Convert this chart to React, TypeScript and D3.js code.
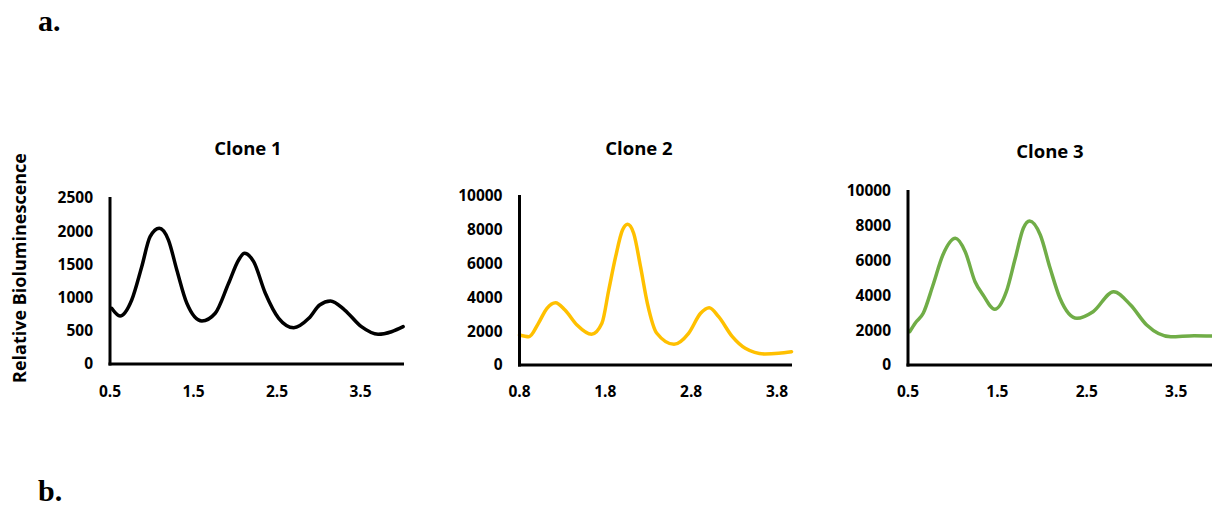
import React, { useEffect, useRef } from 'react';
import * as d3 from 'd3';

// Clone 1 (black)
const clone1X = [0.52, 0.62, 0.76, 0.88, 0.98, 1.09, 1.2, 1.3, 1.42, 1.6, 1.76, 1.92, 2.04, 2.11, 2.22, 2.36, 2.52, 2.7, 2.88, 3.01, 3.14, 3.31, 3.51, 3.71, 3.87, 4.01];
const clone1Y = [839, 723, 964, 1465, 1917, 2044, 1867, 1416, 914, 648, 764, 1215, 1566, 1667, 1541, 1065, 688, 547, 688, 889, 949, 813, 562, 447, 486, 562];

// Clone 2 (yellow)
const clone2X = [0.8, 0.91, 1.02, 1.12, 1.22, 1.33, 1.47, 1.64, 1.76, 1.84, 1.92, 2.0, 2.06, 2.13, 2.21, 2.29, 2.4, 2.6, 2.77, 2.91, 3.01, 3.12, 3.28, 3.43, 3.66, 3.82, 3.97];
const clone2Y = [1775, 1675, 2467, 3355, 3686, 3254, 2367, 1817, 2467, 4438, 6408, 7988, 8325, 7793, 5817, 3651, 1876, 1225, 1876, 3059, 3391, 2858, 1675, 988, 651, 692, 787];

// Clone 3 (green)
const clone3X = [0.52, 0.58, 0.67, 0.78, 0.89, 1.03, 1.14, 1.25, 1.34, 1.47, 1.6, 1.7, 1.79, 1.86, 1.98, 2.09, 2.2, 2.39, 2.57, 2.8, 2.99, 3.17, 3.44, 3.7, 3.9];
const clone3Y = [1914, 2397, 2971, 4598, 6322, 7282, 6511, 4787, 4023, 3201, 4213, 6132, 7856, 8276, 7471, 5557, 3833, 2684, 3063, 4213, 3448, 2299, 1626, 1684, 1667];

const ticks1Y = [0, 500, 1000, 1500, 2000, 2500];
const ticks23Y = [0, 2000, 4000, 6000, 8000, 10000];
const ticks1X = [0.5, 1.5, 2.5, 3.5];
const ticks2X = [0.8, 1.8, 2.8, 3.8];
const ticks3X = [0.5, 1.5, 2.5, 3.5];

const panels = [
  { title: 'Clone 1', xs: clone1X, ys: clone1Y, xTicks: ticks1X, yTicks: ticks1Y, color: '#000000',
    left: 110, right: 404, top: 198, bottom: 364, xDomain: [0.5, 4.02], titleX: 248, titleY: 149 },
  { title: 'Clone 2', xs: clone2X, ys: clone2Y, xTicks: ticks2X, yTicks: ticks23Y, color: '#FFC000',
    left: 519.5, right: 792, top: 196, bottom: 365, xDomain: [0.8, 3.975], titleX: 639, titleY: 149 },
  { title: 'Clone 3', xs: clone3X, ys: clone3Y, xTicks: ticks3X, yTicks: ticks23Y, color: '#70AD47',
    left: 908, right: 1220, top: 191, bottom: 365, xDomain: [0.5, 3.99], titleX: 1050, titleY: 152 },
];

const FONT = '"Open Sans", "Noto Sans", sans-serif';

export default function App() {
  const ref = useRef<SVGSVGElement>(null);

  useEffect(() => {
    const svg = d3.select(ref.current);
    svg.selectAll('*').remove();

    svg.append('text')
      .attr('x', 38).attr('y', 31)
      .attr('font-family', '"Liberation Serif", "DejaVu Serif", serif')
      .attr('font-weight', 'bold').attr('font-size', 30)
      .text('a.');
    svg.append('text')
      .attr('x', 38).attr('y', 501)
      .attr('font-family', '"Liberation Serif", "DejaVu Serif", serif')
      .attr('font-weight', 'bold').attr('font-size', 30)
      .text('b.');

    svg.append('text')
      .attr('transform', 'translate(26,268) rotate(-90)')
      .attr('text-anchor', 'middle')
      .attr('font-family', FONT).attr('font-weight', 'bold').attr('font-size', 18)
      .text('Relative Bioluminescence');

    panels.forEach(p => {
      const x = d3.scaleLinear().domain(p.xDomain).range([p.left, p.right]);
      const yMax = p.yTicks[p.yTicks.length - 1];
      const y = d3.scaleLinear().domain([0, yMax]).range([p.bottom, p.top]);
      const g = svg.append('g');

      g.append('text')
        .attr('x', p.titleX).attr('y', p.titleY)
        .attr('dy', '0.35em')
        .attr('text-anchor', 'middle')
        .attr('font-family', FONT).attr('font-weight', 'bold').attr('font-size', 18.5)
        .text(p.title);

      g.selectAll('.ytick')
        .data(p.yTicks)
        .join('text')
        .attr('class', 'ytick')
        .attr('x', p.left - 17)
        .attr('y', d => y(d))
        .attr('dy', '0.35em')
        .attr('text-anchor', 'end')
        .attr('font-family', FONT).attr('font-weight', 'bold').attr('font-size', 15.5)
        .text(d => String(d));

      g.selectAll('.xtick')
        .data(p.xTicks)
        .join('text')
        .attr('class', 'xtick')
        .attr('x', d => x(d))
        .attr('y', 392)
        .attr('dy', '0.35em')
        .attr('text-anchor', 'middle')
        .attr('font-family', FONT).attr('font-weight', 'bold').attr('font-size', 15.5)
        .text(d => d.toFixed(1));

      const line = d3.line<number>()
        .x((d, i) => x(p.xs[i]))
        .y(d => y(d))
        .curve(d3.curveMonotoneX);

      g.append('path')
        .attr('d', line(p.ys))
        .attr('fill', 'none')
        .attr('stroke', p.color)
        .attr('stroke-width', 3.5)
        .attr('stroke-linecap', 'round')
        .attr('stroke-linejoin', 'round');

      g.append('line')
        .attr('x1', p.left).attr('x2', p.left)
        .attr('y1', p.top - 1).attr('y2', p.bottom + 1.5)
        .attr('stroke', '#000').attr('stroke-width', 3);
      g.append('line')
        .attr('x1', p.left - 1.5).attr('x2', p.right)
        .attr('y1', p.bottom).attr('y2', p.bottom)
        .attr('stroke', '#000').attr('stroke-width', 3);
    });
  }, []);

  return (
    <svg ref={ref} width={1212} height={506}
      style={{ position: 'absolute', left: 0, top: 0, background: '#fff' }} />
  );
}
